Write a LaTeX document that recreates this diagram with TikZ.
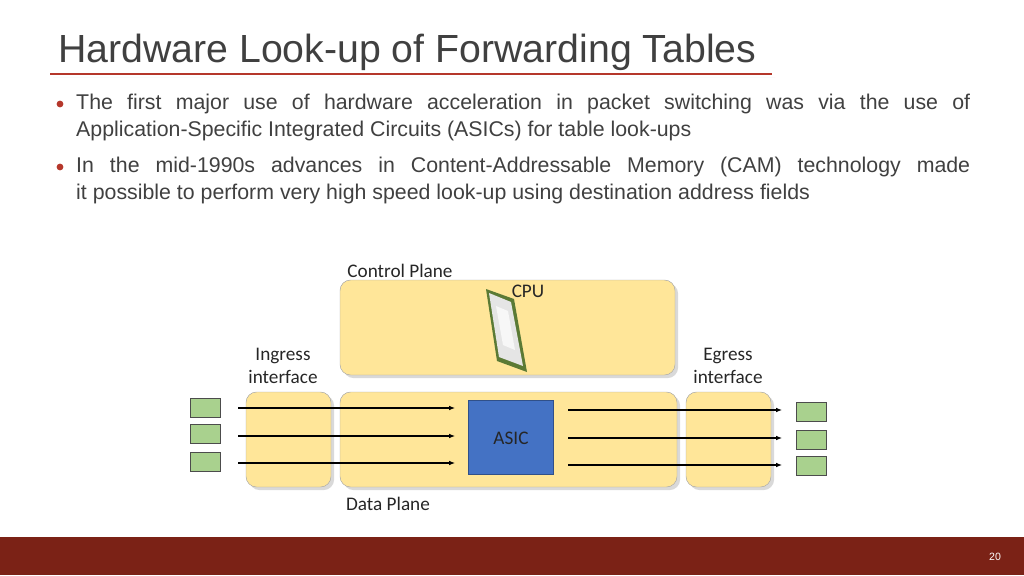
\documentclass[tikz,border=0pt]{standalone}
\usepackage{fontspec}
\setmainfont{Liberation Sans}
\newfontfamily\calibri{Carlito}
\usetikzlibrary{positioning,shadows,arrows.meta}
\definecolor{titlegray}{HTML}{404040}
\definecolor{barred}{HTML}{7B2216}
\definecolor{linered}{HTML}{B5372B}
\definecolor{planefill}{HTML}{FFE699}
\definecolor{asicblue}{HTML}{4472C4}
\definecolor{portgreen}{HTML}{A9D18E}
\definecolor{chipgreen}{HTML}{5B7A35}
\newcommand{\nohyph}{\hyphenpenalty10000\relax}
\begin{document}
\begin{tikzpicture}
[x=0.03cm, y=-0.03cm,
 plane/.style={rectangle, rounded corners=9pt, draw=gray!70, fill=planefill, drop shadow={opacity=0.3}},
 port/.style={rectangle, draw=black!70, fill=portgreen, minimum width=30*0.03cm, minimum height=19*0.03cm},
 flow/.style={-{Latex[length=5pt,width=4pt]}, line width=0.9pt},
 bullet/.style={anchor=north west, text width=894*0.03cm, align=justify, inner sep=0, text=titlegray, font=\fontsize{18.2}{23.2}\selectfont\nohyph},
 lbl/.style={font=\calibri\fontsize{16.4}{19.5}\selectfont, align=center, text=black!85}]
    \useasboundingbox (0,0) rectangle (1024,575);
    % title and rule
    \node[anchor=base west, text=titlegray, font=\fontsize{33.5}{38}\selectfont, inner sep=0](title) at (58,62) {Hardware Look-up of Forwarding Tables};
    \draw[linered, line width=2.2pt, drop shadow={opacity=0.25}] (50,74) -- (772,74);
    % bullets
    \node[bullet](b1) at (76,94) {The first major use of hardware acceleration in packet switching was via the use of\linebreak Application-Specific Integrated Circuits (ASICs) for table look-ups};
    \node[bullet](b2) at (76,157) {In the mid-1990s advances in Content-Addressable Memory (CAM) technology made\linebreak it possible to perform very high speed look-up using destination address fields};
    \fill[linered] (60,104) circle (3.4) (60,167) circle (3.4);
    % footer
    \fill[barred] (0,537) rectangle (1024,575);
    \node[text=white, font=\fontsize{9}{11}\selectfont](page) at (995,557) {20};
    % planes
    \node[plane, minimum width=335*0.03cm, minimum height=95*0.03cm](control) at (507.5,327.5) {};
    \node[plane, minimum width=337*0.03cm, minimum height=95*0.03cm](data) at (508.5,439.5) {};
    \node[plane, minimum width=85*0.03cm, minimum height=95*0.03cm](ingress) at (288.5,439.5) {};
    \node[plane, minimum width=85*0.03cm, minimum height=95*0.03cm](egress) at (728.5,439.5) {};
    \node[rectangle, draw=asicblue!70!black, fill=asicblue, minimum width=85*0.03cm, minimum height=74*0.03cm](asic) at (510.5,437) {};
    % cpu chip
    \fill[chipgreen] (486,289) -- (514,299) -- (527,372) -- (497,361) -- cycle;
    \fill[gray!20] (489,293) -- (511,302) -- (523,366) -- (499,357) -- cycle;
    \fill[white, opacity=0.7] (496,306) -- (508,311) -- (515,350) -- (503,345) -- cycle;
    % labels
    \node[lbl](lcontrol) at (400,271) {Control Plane};
    \node[lbl](lcpu) at (528,291) {CPU};
    \node[lbl](lingress) at (283,366) {Ingress\\interface};
    \node[lbl](legress) at (728,366) {Egress\\interface};
    \node[lbl](lasic) at (511,438) {ASIC};
    \node[lbl](ldata) at (388,504) {Data Plane};
    % ports and flows
    \foreach \i/\yin/\yout in {1/408/412, 2/434/440, 3/462/466} {
        \node[port](in\i) at (205,\yin) {};
        \node[port](out\i) at (811,\yout) {};
    }
    \foreach \i/\ya/\yb in {1/408/410, 2/436/438, 3/463/465} {
        \coordinate (s\i) at (238,\ya);
        \coordinate (e\i) at (455,\ya);
        \coordinate (t\i) at (568,\yb);
        \coordinate (u\i) at (782,\yb);
        \draw[flow] (s\i) -- (e\i);
        \draw[flow] (t\i) -- (u\i);
    }
\end{tikzpicture}
\end{document}
